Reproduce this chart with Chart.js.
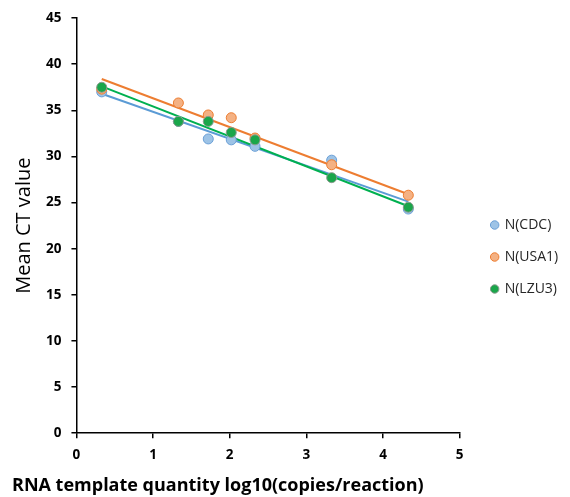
<!DOCTYPE html>
<html>
<head>
<meta charset="utf-8">
<script src="https://cdn.jsdelivr.net/npm/chart.js@4"></script>
<style>
  html, body { margin: 0; padding: 0; background: #fff; }
  #wrap { width: 570px; height: 497px; }
</style>
</head>
<body>
<div id="wrap"><canvas id="ct-chart"></canvas></div>
<script>
/* ---- data ---- */
var xLog = [0.33, 1.33, 1.72, 2.02, 2.33, 3.33, 4.33];
var ctCDC  = [37.0, 33.8, 31.9, 31.8, 31.1, 29.6, 24.3];
var ctUSA1 = [37.3, 35.8, 34.5, 34.2, 32.0, 29.1, 25.8];
var ctLZU3 = [37.5, 33.8, 33.8, 32.6, 31.8, 27.7, 24.5];

/* trendline end points (x = first / last template quantity) */
var trendX    = [0.33, 4.33];
var trendCDC  = [36.8, 25.1];
var trendUSA1 = [38.4, 25.9];
var trendLZU3 = [37.6, 24.6];

var seriesNames = ['N(CDC)', 'N(USA1)', 'N(LZU3)'];

(function() {
    'use strict';

    var FONT = '"Open Sans", Lato, sans-serif';

    function pts(xs, ys) {
        return xs.map(function(x, i) { return { x: x, y: ys[i] }; });
    }

    function pointSet(name, ys, fill, border, order) {
        return {
            label: name,
            data: pts(xLog, ys),
            showLine: false,
            pointRadius: 5,
            pointHoverRadius: 5,
            pointBackgroundColor: fill,
            pointBorderColor: border,
            pointBorderWidth: 1,
            backgroundColor: fill,
            borderColor: border,
            order: order
        };
    }

    function trendSet(ys, color, order) {
        return {
            label: '_trend',
            data: pts(trendX, ys),
            showLine: true,
            borderColor: color,
            borderWidth: 2,
            pointRadius: 0,
            fill: false,
            order: order
        };
    }

    new Chart(document.getElementById('ct-chart'), {
        type: 'scatter',
        data: {
            datasets: [
                pointSet(seriesNames[0], ctCDC, '#9dc3e6', '#6a9fd6', 2),
                pointSet(seriesNames[1], ctUSA1, '#f4b183', '#ed7d31', 1),
                pointSet(seriesNames[2], ctLZU3, '#1aa64a', '#8a9a8e', 0),
                trendSet(trendCDC, '#5b9bd5', 5),
                trendSet(trendUSA1, '#ed7d31', 4),
                trendSet(trendLZU3, '#00b050', 3)
            ]
        },
        options: {
            responsive: true,
            maintainAspectRatio: false,
            animation: false,
            layout: { padding: { left: 12, right: 4, top: 11, bottom: -6 } },
            plugins: {
                legend: {
                    position: 'right',
                    align: 'center',
                    labels: {
                        usePointStyle: true,
                        pointStyle: 'circle',
                        boxWidth: 6,
                        boxHeight: 6,
                        padding: 18,
                        color: '#262626',
                        font: { family: FONT, size: 14 },
                        filter: function(item) { return item.text !== '_trend'; },
                        sort: function(a, b) { return a.datasetIndex - b.datasetIndex; }
                    }
                },
                title: {
                    display: true,
                    position: 'bottom',
                    align: 'start',
                    text: 'RNA template quantity log10(copies/reaction)',
                    color: '#000',
                    font: { family: FONT, size: 18, weight: 'bold' },
                    padding: { top: 3, bottom: 6 }
                },
                tooltip: { enabled: false }
            },
            scales: {
                x: {
                    type: 'linear',
                    min: 0,
                    max: 5,
                    ticks: {
                        stepSize: 1,
                        color: '#000',
                        padding: 9,
                        font: { family: FONT, size: 13.5, weight: 'bold' }
                    },
                    grid: { drawOnChartArea: false, drawTicks: true, tickLength: 5, color: '#000', lineWidth: 1.5 },
                    border: { color: '#000', width: 1.5 }
                },
                y: {
                    min: 0,
                    max: 45,
                    ticks: {
                        stepSize: 5,
                        color: '#000',
                        padding: 10,
                        font: { family: FONT, size: 13.5, weight: 'bold' }
                    },
                    grid: { drawOnChartArea: false, drawTicks: true, tickLength: 5, color: '#000', lineWidth: 1.5 },
                    border: { color: '#000', width: 1.5 },
                    title: {
                        display: true,
                        text: 'Mean CT value',
                        color: '#000',
                        font: { family: FONT, size: 20 },
                        padding: { top: 0, bottom: 0 }
                    }
                },
                /* empty spacer between plot and legend */
                gap: {
                    type: 'linear',
                    position: 'right',
                    ticks: { display: false },
                    grid: { display: false },
                    border: { display: false },
                    afterFit: function(scale) { scale.width = 14; }
                }
            }
        }
    });
})();
</script>
</body>
</html>
